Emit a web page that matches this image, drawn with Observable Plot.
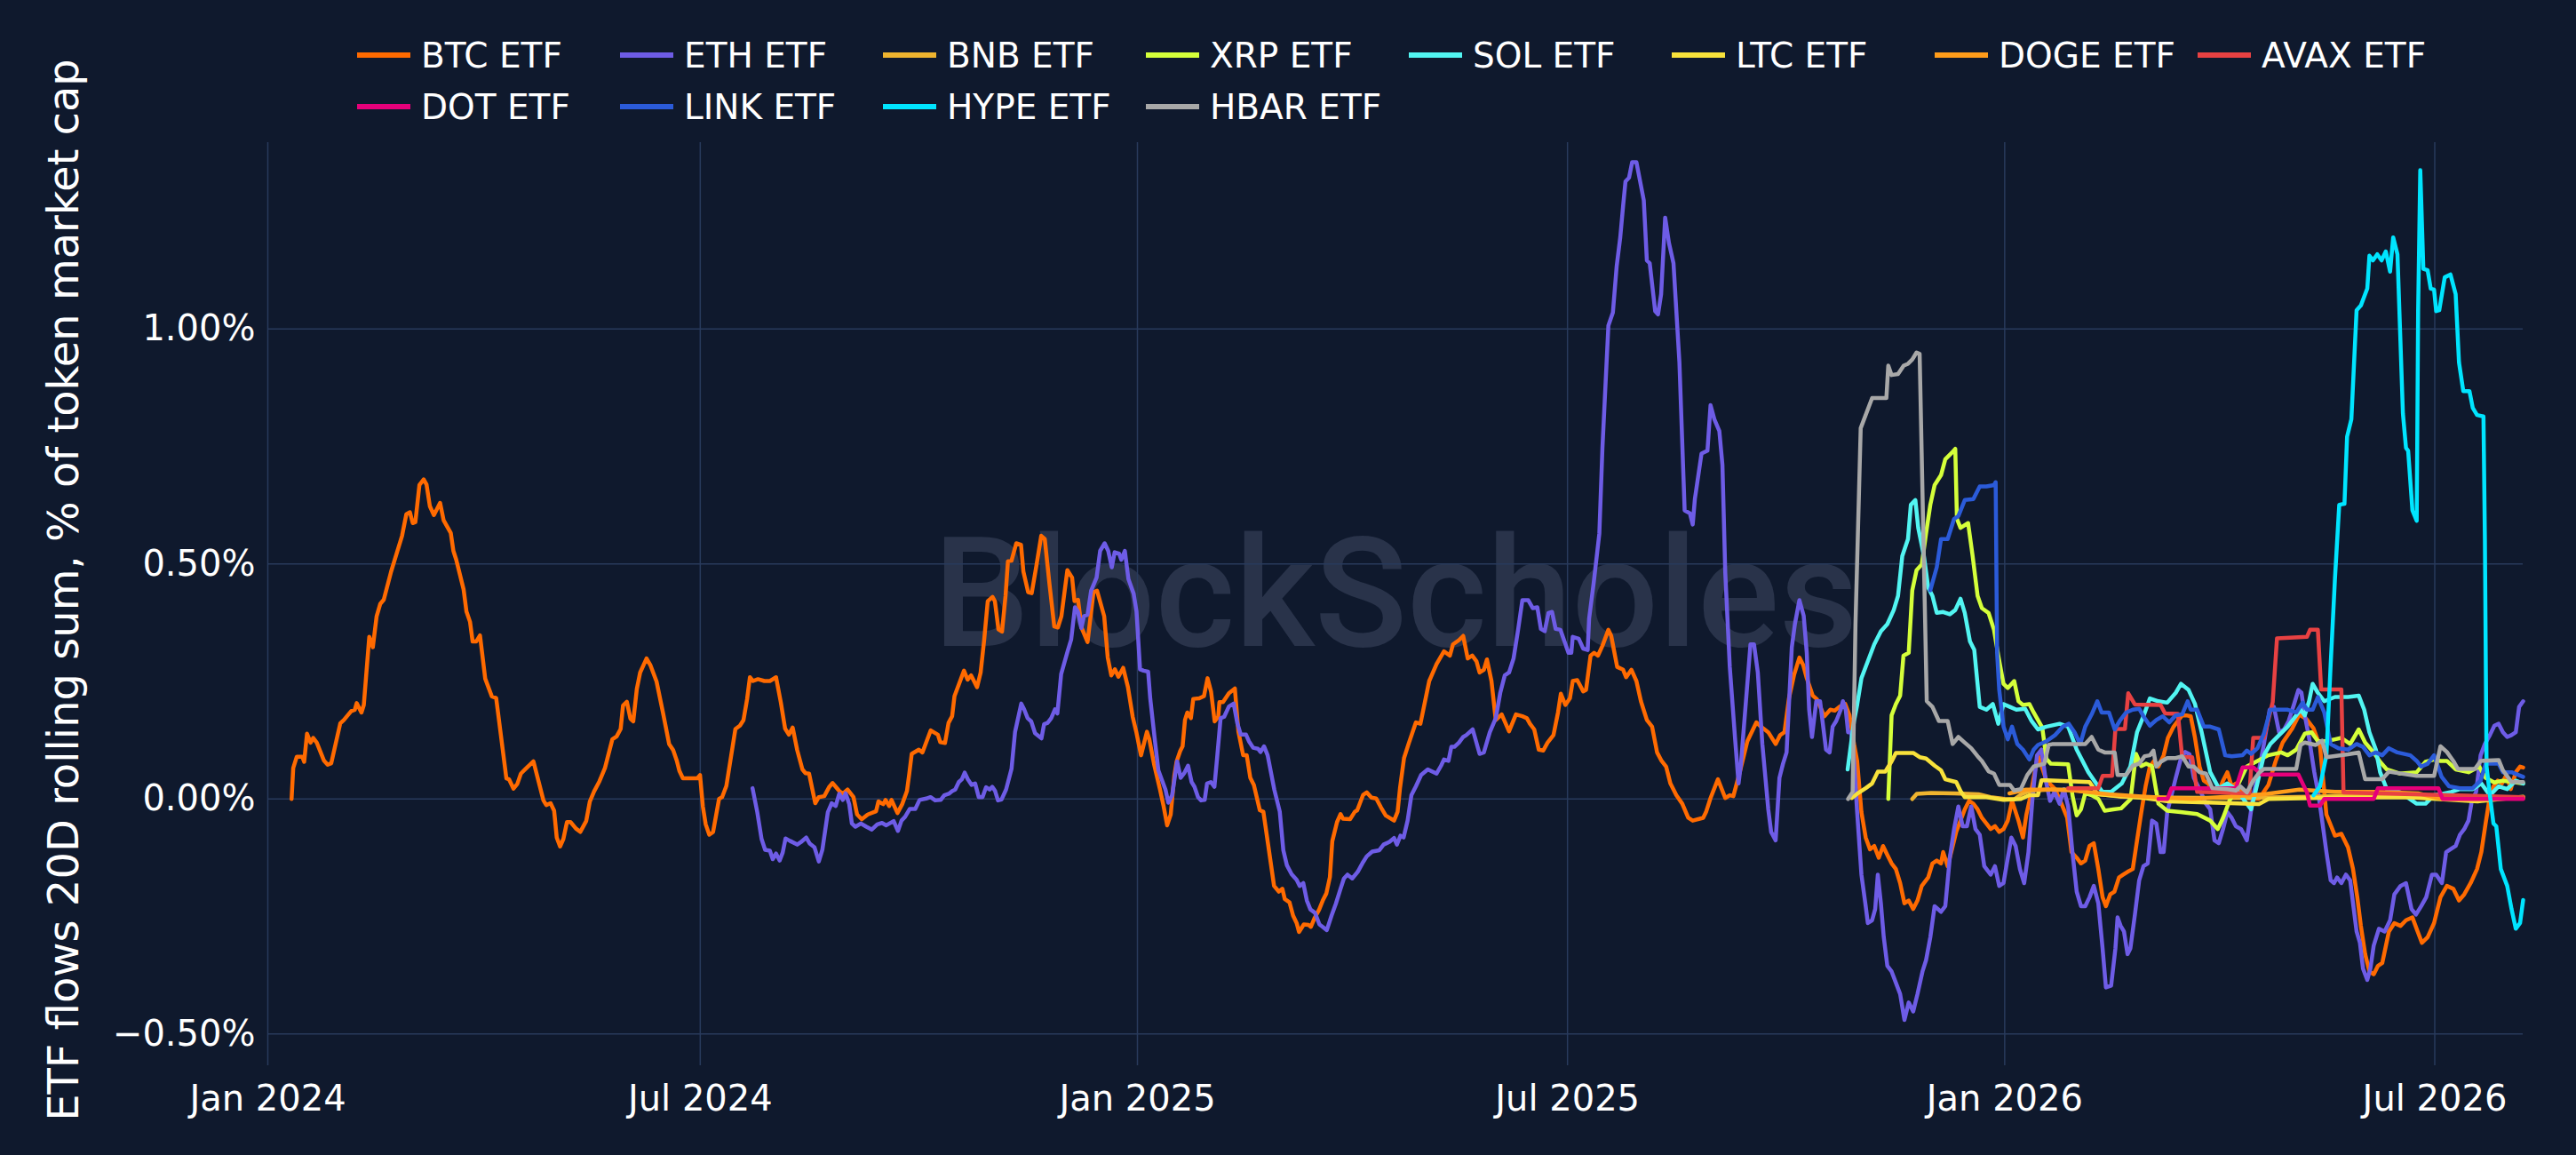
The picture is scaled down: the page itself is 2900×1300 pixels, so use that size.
<!DOCTYPE html>
<html>
<head>
<meta charset="utf-8">
<script src="https://cdn.jsdelivr.net/npm/d3@7"></script>
<script src="https://cdn.jsdelivr.net/npm/@observablehq/plot@0.6"></script>
<style>
html,body{margin:0;padding:0;background:#0f192d;}
#wrap{position:relative;width:2900px;height:1300px;background:#0f192d;font-family:"DejaVu Sans",Verdana,sans-serif;overflow:hidden;}
#legend{position:absolute;left:402px;top:33px;width:2400px;display:flex;flex-wrap:wrap;}
.item{width:296px;height:58px;display:flex;align-items:center;color:#fff;font-size:39px;white-space:nowrap;}
.sw{width:60px;height:6px;margin-right:12px;flex:none;}
</style>
</head>
<body>
<div id="wrap"><div id="chart"></div><div id="legend"></div></div>
<script>
// x values: days since 2024-01-01 ; y values: % of token market cap
const startDate = "2024-01-01";
const xTickDates = ["2024-01-01","2024-07-01","2025-01-01","2025-07-01","2026-01-01","2026-07-01"];
const xEndDay = 949.2;
const yTicks = [-0.5, 0, 0.5, 1.0];
const yDomain = [-0.5675, 1.3966];
const yTitle = "ETF flows 20D rolling sum, % of token market cap";
const watermark = "BlockScholes";

const seriesNames = ["BTC ETF","ETH ETF","BNB ETF","XRP ETF","SOL ETF","LTC ETF","DOGE ETF","AVAX ETF","DOT ETF","LINK ETF","HYPE ETF","HBAR ETF"];
const seriesColors = ["#ff6a00","#6e5ce6","#efb42f","#d5ff3a","#52f5f2","#f8e23b","#ff9c1a","#e84142","#e6007a","#2b5bd9","#00e5ff","#a8a8a8"];

const btc = [[10,0],[10.7,0.066],[12.2,0.09],[14.5,0.09],[15.3,0.079],[16.5,0.139],[18,0.12],[19.1,0.13],[20.6,0.12],[23.6,0.082],[25.2,0.073],[26.7,0.076],[30.5,0.161],[32,0.168],[35.1,0.187],[36.6,0.19],[37.4,0.204],[39.4,0.184],[40.4,0.2],[42.7,0.345],[44.2,0.323],[45.8,0.389],[47.3,0.415],[48.8,0.424],[51.9,0.484],[54.2,0.522],[56.5,0.56],[58.3,0.606],[59.8,0.61],[61,0.587],[62.1,0.589],[63.8,0.668],[65.6,0.68],[66.8,0.669],[68.2,0.623],[69.9,0.604],[72.5,0.63],[74,0.593],[77,0.566],[78.1,0.528],[79.3,0.509],[82.4,0.446],[83.6,0.399],[85.1,0.377],[86.2,0.335],[87.7,0.335],[89.3,0.348],[91.5,0.256],[94.3,0.218],[96.1,0.215],[100.4,0.044],[101.5,0.042],[103.4,0.022],[105,0.032],[106.5,0.054],[108.3,0.063],[111.8,0.08],[116,-0.003],[117.2,-0.013],[119,-0.009],[120.5,-0.025],[121.6,-0.082],[123,-0.101],[124.4,-0.085],[125.9,-0.049],[127.4,-0.049],[129.7,-0.063],[131.5,-0.07],[134,-0.047],[135.5,-0.006],[137.3,0.016],[139.6,0.038],[141.9,0.066],[145,0.127],[146.8,0.133],[148.5,0.149],[149.5,0.199],[151.1,0.207],[152.6,0.171],[153.8,0.165],[155.3,0.234],[156.7,0.269],[159.4,0.299],[161,0.285],[163.6,0.25],[166.3,0.184],[168.9,0.117],[170.6,0.104],[172.1,0.082],[173.2,0.06],[174.7,0.044],[180.8,0.044],[181.9,0.051],[183.1,-0.016],[184.3,-0.054],[185.8,-0.076],[187.4,-0.07],[189.9,0],[191.2,0.004],[193,0.028],[196.8,0.149],[198.7,0.156],[200.2,0.168],[201.7,0.212],[202.9,0.259],[204.2,0.251],[206.3,0.255],[209,0.251],[211.3,0.251],[213.9,0.259],[215.9,0.206],[217.7,0.15],[219.3,0.137],[220.9,0.152],[222.8,0.104],[225,0.063],[226.3,0.055],[227.8,0.054],[230.4,-0.009],[231.9,0.004],[234.2,0.006],[236.2,0.025],[237.7,0.034],
[239,0.026],[240.5,0.017],[242,0.011],[244,0.020],[246.5,0.004],[248,-0.033],[250,-0.043],[252.5,-0.033],[256,-0.026],[257,-0.005],[259,-0.011],[260,-0.002],[261.5,-0.015],[262.5,-0.002],[265,-0.030],[267,-0.011],[269,0.017],[270,0.055],[271,0.096],[274,0.105],[275.5,0.099],[279,0.146],[282,0.137],[283,0.121],[285,0.119],[286.5,0.162],[288,0.176],[289,0.219],[293,0.273],[294.5,0.254],[296,0.263],[298.5,0.238],[300,0.269],[301.5,0.339],[303,0.421],[305,0.430],[306,0.421],[307.5,0.361],[309,0.356],[310.5,0.433],[311.5,0.506],[313,0.507],[315,0.544],[317,0.541],[318,0.484],[320,0.440],[321.5,0.438],[323.5,0.497],[325.5,0.560],[327,0.553],[329,0.456],[331,0.367],[332.5,0.365],[334,0.389],[336.5,0.487],[338.5,0.471],[339.5,0.421],[341,0.424],[342.5,0.364],[345,0.334],[347.5,0.440],[349,0.443],[352,0.389],[353.5,0.301],[355,0.263],[356.5,0.276],[358,0.260],[360,0.279],[362,0.238],[364,0.175],[365.5,0.143],[367.5,0.093],[370,0.143],[371,0.127],[373,0.074],[375.5,0.020],[377,-0.015],[378.5,-0.056],[380,-0.033],[381.5,0.049],[382.5,0.080],[384,0.102],[385,0.112],[386,0.168],[387,0.184],[388.5,0.172],[389.5,0.213],[392,0.214],[394,0.219],[395.5,0.257],[397,0.228],[398.5,0.165],[400,0.175],[400.5,0.206],[402,0.206],[404.5,0.225],[407,0.235],[408.5,0.143],[410.5,0.093],[412,0.093],[413.5,0.045],[415,0.030],[417.5,-0.024],[419,-0.027],[421,-0.097],[423.5,-0.185],[425.5,-0.197],[427,-0.191],[428,-0.213],[430,-0.220],[431.5,-0.248],[433,-0.264],[434,-0.283],[436,-0.267],[438,-0.268],[439,-0.272],[440.5,-0.254],[442.5,-0.235],[444,-0.216],[445.5,-0.201],[447,-0.166],[448,-0.090],[450,-0.049],[451.5,-0.032],[452.5,-0.042],[455.5,-0.043],[457.5,-0.027],[458.5,-0.024],[461,0.009],[462.5,0.014],[464.5,0.003],[466.5,0.001],[468.5,-0.018],[470.5,-0.035],[474,-0.046],[475.5,-0.027],[476.5,0.023],
[478.2,0.087],[480.1,0.117],[483.2,0.163],[485.1,0.160],[488.8,0.251],[491.9,0.287],[495,0.314],[497.5,0.305],[498.8,0.329],[501.3,0.338],[503.1,0.347],[505,0.299],[506.9,0.305],[508.7,0.293],[510,0.269],[511.8,0.275],[513.1,0.297],[515,0.251],[516.8,0.168],[519.3,0.180],[522.4,0.144],[525.3,0.180],[528,0.176],[529.9,0.172],[531.2,0.160],[533,0.148],[534.9,0.105],[536.8,0.103],[538.6,0.120],[541.1,0.136],[543,0.184],[544.2,0.224],[546.1,0.200],[548,0.214],[549.2,0.251],[551.1,0.253],[553.6,0.229],[554.8,0.232],[556.7,0.305],[558.2,0.311],[559.8,0.305],[561.7,0.326],[564.2,0.360],[565.4,0.347],[567.9,0.281],[570.4,0.275],[571.7,0.259],[573.9,0.275],[576,0.251],[577.9,0.208],[580.4,0.168],[582.6,0.154],[584.7,0.099],[586.6,0.081],[588.5,0.069],[590.3,0.033],[592.8,0.008],[595.3,-0.010],[597.8,-0.040],[599.7,-0.046],[604.1,-0.040],[605.3,-0.028],[607.2,0.002],[610.3,0.042],[613.4,0.002],[615.3,0.008],[616.8,0.006],[619.6,0.059],[622.7,0.123],[626.5,0.163],[628.4,0.154],[631.5,0.142],[634.6,0.117],[636.5,0.136],[638.3,0.142],[640.2,0.214],[642.4,0.265],[644.6,0.301],[646.2,0.285],[647.7,0.257],[650.2,0.220],[652,0.212],[655.1,0.176],[657.6,0.190],[659.5,0.188],[661.4,0.196],[663.9,0.202],[665.7,0.178],[667.6,0.117],
[668.9,0.081],[670.7,-0.028],[672.5,-0.082],[674.3,-0.107],[676.1,-0.100],[678,-0.125],[679.8,-0.100],[681.6,-0.119],[683.4,-0.137],[685.2,-0.149],[687,-0.179],[688.8,-0.222],[690.6,-0.216],[692.5,-0.234],[694.3,-0.216],[696.1,-0.185],[698.8,-0.167],[700.6,-0.137],[702.4,-0.131],[704.2,-0.137],[705.1,-0.113],[707,-0.143],[708.8,-0.107],[710.6,-0.070],[712.4,-0.046],[714.2,-0.022],[716,-0.004],[717.8,-0.010],[719.6,-0.022],[721.4,-0.040],[723.3,-0.052],[725.1,-0.064],[726.9,-0.058],[728.7,-0.070],[730.5,-0.064],[732.3,-0.046],[734.1,-0.004],[736.8,-0.046],[738.7,-0.082],[740.1,-0.034],[741.4,-0.004],[743.2,0.045],[745,0.093],[748.6,0.039],[752.2,0.021],[754.9,-0.010],[757.3,-0.040],[759.1,-0.113],[761.3,-0.125],[763.1,-0.137],[764.9,-0.131],[766.7,-0.100],[768.5,-0.094],[770.4,-0.149],[772.2,-0.209],[773.6,-0.228],[775.4,-0.203],[777.2,-0.197],[779.1,-0.167],[780.9,-0.161],[782.7,-0.155],[784.9,-0.149],[786.7,-0.088],[788.5,-0.028],[790.3,0.027],[792.1,0.069],[793.9,0.081],[795.7,0.069],[797.9,0.093],[799.7,0.130],[802.1,0.154],[803.9,0.166],[805.7,0.178],[807.5,0.178],[809.3,0.176],[811.1,0.130],[813,0.069],[814.8,0.039],[816.6,0.033],[818.4,0.021],[821.1,0.015],[822.9,0.039],[824.7,0.057],[826.5,0.027],[828.3,0.033],[830.2,0.021],[832.9,0.002],[838,0.0],[842,0.03],[845,0.08],[848,0.12],[852,0.15],[855,0.18],[858,0.17],[861,0.15],[863.7,0.112],[866.4,-0.033],[870,-0.078],[872.7,-0.074],[875.5,-0.103],[877.6,-0.149],[879.4,-0.209],[880.9,-0.270],[882.7,-0.330],[884.5,-0.367],[886.3,-0.373],[888.1,-0.355],[889.9,-0.349],[892.7,-0.282],[895,-0.264],[897.6,-0.270],[899.9,-0.258],[902.6,-0.252],[904.8,-0.282],[906.6,-0.306],[909,-0.294],[911.7,-0.264],[914.4,-0.209],[917.1,-0.185],[919.8,-0.191],[922.2,-0.216],[924.4,-0.203],[927.1,-0.179],[929.8,-0.149],[931.6,-0.113],[933.4,-0.052],[934.9,-0.004],[936.7,0.027],[938.5,0.039],[940.3,0.033],[942.1,0.051],[944,0.021],[946.1,0.057],[947.9,0.069],[949.2,0.067]];

const eth = [[204,0.023],[206,-0.028],[207.8,-0.085],[209.3,-0.108],[211.3,-0.11],[212.5,-0.128],[213.9,-0.116],[215.4,-0.131],[216.7,-0.114],[217.9,-0.084],[219.7,-0.089],[222.8,-0.097],[224.3,-0.092],[226.6,-0.082],[228.1,-0.095],[230.1,-0.103],[231.9,-0.133],[233.4,-0.108],[235.7,-0.028],[237.3,-0.009],
[239,-0.015],[240.5,0.011],[242,-0.002],[243.2,0.012],[244.7,-0.011],[245.8,-0.052],[247.3,-0.059],[249.6,-0.052],[251.9,-0.059],[254.2,-0.065],[256.5,-0.054],[258.5,-0.051],[260.3,-0.056],[263.4,-0.047],[265.2,-0.068],[266.7,-0.046],[268.2,-0.038],[270.2,-0.021],[272.5,-0.021],[274.3,-0.002],[277.1,0.001],[278.9,0.004],[280.9,-0.003],[283.2,-0.002],[284.7,0.008],[286.6,0.011],[288.1,0.017],[289.3,0.020],[290.8,0.036],[292.1,0.042],[293.3,0.056],[294.6,0.042],[296.2,0.030],[297.7,0.033],[299.2,0.004],[300.8,0.004],[302.3,0.025],[303.8,0.020],[304.9,0.026],[306.1,0.017],[307.3,-0.003],[308.8,-0.001],[310.7,0.020],[313,0.064],[314.5,0.143],[317.1,0.203],[318.3,0.191],[319.8,0.172],[321.3,0.165],[322.9,0.140],[325.6,0.129],[326.7,0.159],[328.2,0.162],[329.7,0.172],[331.3,0.191],[332.3,0.182],[333.9,0.266],[336.6,0.314],[338.1,0.339],[339.7,0.408],[340.9,0.399],[342.4,0.364],[343.5,0.389],[345,0.392],[346.5,0.443],[348.8,0.471],[350.3,0.528],[352.2,0.544],[353.7,0.528],[355.2,0.493],[356.4,0.525],[358.3,0.522],[359.2,0.509],[360.7,0.528],[362.2,0.468],[364.4,0.437],[365.6,0.399],[367.1,0.276],[368.6,0.273],[370.5,0.271],[371.4,0.213],[373.2,0.131],[374.8,0.061],[377.8,0.020],[379,-0.008],[380.6,0.008],[382.7,0.080],[384.2,0.045],[385.7,0.055],[387.3,0.071],[388.8,0.036],[390,0.026],[391.5,0.004],[392.8,-0.003],[394.3,-0.002],[395.3,0.033],[396.9,0.036],[398.4,0.026],[399.5,0.086],[401,0.172],[402.5,0.175],[404.5,0.197],[406.5,0.203],[408,0.162],[409.5,0.137],[411.7,0.137],[412.9,0.123],[414.7,0.109],[416.7,0.107],[417.8,0.100],[419.3,0.112],[420.8,0.093],[423.6,0.020],[425.9,-0.027],[427.4,-0.109],[428.9,-0.141],[430.9,-0.160],[433,-0.172],[434.3,-0.185],[435.8,-0.179],[437.3,-0.216],[438.8,-0.235],[440.7,-0.242],[442.6,-0.267],[444.2,-0.273],[445.7,-0.279],[447.7,-0.248],[449.5,-0.223],[451.3,-0.194],[452.9,-0.169],[454.4,-0.161],[456.4,-0.169],[458.7,-0.155],[461,-0.134],[462.5,-0.122],[464.8,-0.112],[467.8,-0.109],[469.6,-0.097],[472.1,-0.091],[474,-0.083],[475.2,-0.097],[476.7,-0.078],
[478,-0.082],[479.7,-0.046],[481.3,0.008],[483.2,0.027],[485.4,0.051],[488.2,0.063],[491.9,0.054],[493.8,0.071],[495,0.084],[496.9,0.081],[498.1,0.111],[499.4,0.111],[501.3,0.120],[503.1,0.132],[504.4,0.136],[507.1,0.148],[510,0.096],[511.8,0.099],[514.3,0.142],[516.8,0.172],[518.7,0.226],[520.6,0.263],[522.4,0.269],[524.3,0.299],[526.2,0.360],[528,0.423],[530.5,0.423],[532.4,0.406],[534.3,0.408],[535.8,0.362],[537.4,0.357],[539,0.396],[540.5,0.398],[542,0.362],[544,0.360],[547.4,0.311],[548.6,0.311],[549.2,0.345],[551.7,0.341],[553.6,0.320],[555.5,0.317],[556.1,0.384],[558,0.459],[560.4,0.565],[561.7,0.747],[564.2,1.007],[566.1,1.035],[567.7,1.134],[569.2,1.195],[570.4,1.262],[571.4,1.314],[572.9,1.322],[574.2,1.355],[576,1.355],[579.1,1.274],[580.4,1.146],[581.6,1.140],[583.9,1.038],[585.1,1.031],[586.4,1.074],[588.1,1.237],[589.7,1.183],[591.6,1.140],[594.1,0.929],[596.3,0.614],[598.5,0.608],[599.7,0.584],[600.6,0.638],[603.4,0.735],[605.9,0.741],[607.2,0.838],[608.8,0.808],[610.9,0.783],[612.2,0.711],[613.4,0.481],[615.3,0.281],[617.5,0.130],[619,0.033],[620,0.075],[622.1,0.208],[624,0.329],[625.5,0.329],[627.1,0.269],[629,0.117],[631.5,-0.022],[632.7,-0.070],[634.6,-0.088],[636.2,0.045],[637.7,0.075],[639.2,0.099],[641.4,0.323],[642.7,0.372],[644.6,0.423],[646.4,0.390],[647.7,0.311],[648.7,0.190],[649.9,0.132],[651.7,0.208],[653.3,0.208],[655.8,0.105],[657.3,0.099],[658.6,0.154],[660.1,0.166],[662,0.190],[662.9,0.208],[664.1,0.190],[665.1,0.142],[666.4,0.142],[667.6,0.081],[668.9,-0.028],
[670.7,-0.161],[672.5,-0.228],[673.4,-0.264],[675.2,-0.258],[676.5,-0.234],[677.6,-0.161],[678.9,-0.222],[680.1,-0.294],[681.6,-0.355],[683.4,-0.367],[685.2,-0.391],[687,-0.415],[688.8,-0.470],[690.6,-0.433],[692.5,-0.452],[694.3,-0.415],[696.4,-0.367],[697.9,-0.343],[699.7,-0.294],[701.5,-0.228],[704.2,-0.240],[706,-0.228],[707.9,-0.125],[709.7,-0.064],[711.5,-0.016],[713.3,-0.058],[715.1,-0.058],[716.9,-0.016],[718.7,-0.064],[720.5,-0.076],[722.4,-0.143],[725.1,-0.161],[726.9,-0.143],[728.7,-0.185],[730.5,-0.179],[731.9,-0.137],[733.8,-0.082],[735.6,-0.100],[737.4,-0.149],[739.2,-0.179],[741,-0.113],[742.8,0.008],[744.6,0.093],[746.5,0.105],[748.3,0.039],[750.1,-0.004],[751.9,0.015],[754.1,-0.010],[755.9,0.021],[757.7,-0.016],[759.5,-0.113],[761.3,-0.197],[763.1,-0.228],[764.9,-0.228],[766.7,-0.209],[768.5,-0.185],[770.4,-0.222],[772.2,-0.318],[773.6,-0.401],[775.8,-0.397],[777.6,-0.318],[778.5,-0.252],[779.8,-0.270],[781.2,-0.282],[782.7,-0.330],[783.9,-0.318],[785.8,-0.246],[787.6,-0.173],[789.4,-0.143],[791.2,-0.137],[793,-0.046],[794.8,-0.052],[796.6,-0.113],[797.9,-0.113],[799.4,-0.028],[801.2,0.008],[803,0.045],[805.2,0.087],[807,0.100],[808.8,0.095],[810.6,0.045],[813,0.021],[815.7,-0.010],[817.5,-0.022],[819.3,-0.088],[821.1,-0.094],[822.9,-0.064],[824.7,-0.028],[826.5,-0.040],[828.3,-0.058],[830.5,-0.064],[832.9,-0.088],[834.1,-0.046],[835.6,0.008],[837.4,0.045],[840.1,0.117],[842.5,0.190],[844.3,0.196],[846.5,0.142],[848.6,0.148],[850.5,0.166],[852.8,0.202],[854.6,0.232],[855.9,0.226],[857.3,0.178],[859.1,0.130],[861.3,0.057],[863.1,0.008],[864.6,-0.046],[866.4,-0.113],[868.2,-0.173],[869.6,-0.179],[870.9,-0.167],[872.7,-0.179],[874.6,-0.161],[876.4,-0.173],[877.6,-0.222],[879.1,-0.282],[880.5,-0.306],[881.8,-0.361],[883.6,-0.385],[884.9,-0.361],[886.3,-0.312],[888.5,-0.276],[890.9,-0.282],[893.2,-0.258],[895,-0.203],[897.6,-0.185],[899.9,-0.179],[902.2,-0.234],[904.1,-0.246],[906.3,-0.228],[908.4,-0.209],[910.8,-0.161],[912.6,-0.161],[915,-0.179],[916.8,-0.113],[918.6,-0.107],[920.8,-0.100],[922.6,-0.076],[924.4,-0.064],[926.2,-0.046],[927.6,-0.004],[929.4,0.015],[931.3,0.093],[933.1,0.117],[935.2,0.136],[937.1,0.156],[938.9,0.160],[940.7,0.142],[942.5,0.132],[944.3,0.136],[946.1,0.142],[947.5,0.196],[949.2,0.208]];

const bnb = [[692.1,0],[694,0.011],[700,0.013],[710,0.012],[720,0.010],[725,0.004],[731,0.0],[735,-0.001],[738,0.01],[742,0.018],[750,0.02],[760,0.02],[768,0.012],[780,0.005],[800,0.003],[830,0.002],[860,0.005],[880,0.008],[900,0.005],[920,0.002],[949.2,0.003]];

const xrp = [[682,0],[683.4,0.178],[685.2,0.202],[687,0.220],[688.4,0.305],[690.6,0.311],[692.1,0.444],[693.9,0.487],[696.1,0.499],[697.9,0.565],[699.7,0.626],[701.5,0.668],[704.2,0.689],[706,0.723],[708.8,0.737],[710.2,0.745],[710.9,0.596],[712.4,0.577],[715.6,0.587],[717.5,0.517],[719.6,0.432],[721.4,0.406],[724.2,0.396],[726.5,0.360],[728.3,0.305],[730.5,0.245],[732.3,0.236],[735,0.251],[736.8,0.208],[738.7,0.200],[741.4,0.202],[743.2,0.184],[746.8,0.152],[748.6,0.085],[750.4,0.075],[757.7,0.074],[759.5,0.008],[761.3,-0.035],[763.1,-0.022],[764.9,0.012],[767.6,0.008],[770.4,0.0],[773.1,-0.025],[776.7,-0.022],[780,-0.02],[784,0.0],[786.3,0.096],[788.5,0.07],[790.5,0.075],[793,0.07],[795.7,-0.01],[799.4,-0.025],[805,-0.028],[812,-0.032],[817.5,-0.046],[820.7,-0.064],[822.9,-0.040],[825.6,-0.004],[828.3,0.021],[832.9,0.069],[837.4,0.081],[841.9,0.093],[847.4,0.099],[850.1,0.093],[853.7,0.105],[857.3,0.139],[860.1,0.142],[862.8,0.123],[866.4,0.123],[870,0.127],[872.7,0.130],[876.4,0.117],[880,0.148],[882.7,0.120],[886.3,0.099],[889,0.079],[891.8,0.063],[897.2,0.054],[904.4,0.057],[908.1,0.079],[911.7,0.084],[914.4,0.081],[917.1,0.081],[920.8,0.063],[926.2,0.057],[930.7,0.069],[933.4,0.045],[937.1,0.035],[940.7,0.039],[949.2,0.033]];

const sol = [[664.9,0.063],[667.6,0.166],[668.9,0.2],[670.7,0.257],[673.4,0.293],[676.1,0.329],[678.9,0.357],[681.6,0.372],[684.3,0.402],[686.1,0.432],[687.9,0.517],[690.3,0.553],[691.5,0.626],[693.4,0.636],[694.6,0.577],[697,0.517],[698.8,0.450],[700.6,0.432],[702.4,0.396],[705.1,0.398],[707.9,0.393],[710.2,0.402],[712.4,0.426],[714.2,0.396],[716.4,0.335],[718.2,0.317],[720.5,0.196],[723.3,0.190],[726,0.202],[728.3,0.160],[730.5,0.202],[733.2,0.196],[735.9,0.190],[739.6,0.192],[742.3,0.166],[745,0.148],[748.6,0.154],[754.1,0.160],[757.7,0.154],[761.3,0.105],[766.2,0.057],[769.5,0.033],[772.2,0.015],[775.8,0.015],[780.3,0.033],[783.9,0.069],[786.7,0.142],[789.4,0.176],[792.1,0.214],[795.7,0.208],[799.4,0.205],[803,0.226],[805.2,0.245],[808.4,0.232],[811.1,0.202],[813.9,0.142],[817.5,0.057],[821.1,0.023],[824.7,0.033],[828.3,0.021],[832,-0.004],[834.7,-0.022],[836.5,0.015],[840.1,0.093],[842.8,0.117],[846.5,0.136],[850.1,0.154],[852.8,0.172],[855.5,0.190],[857.3,0.178],[859.1,0.208],[860.6,0.245],[862.8,0.226],[865.5,0.208],[870,0.217],[875.5,0.217],[880,0.220],[882.3,0.190],[884.5,0.142],[887.2,0.105],[889,0.057],[891.8,0.021],[897.2,0.015],[904.4,-0.010],[908.1,-0.010],[911.7,0.008],[915.3,0.011],[918.9,0.015],[922.6,0.021],[928,0.021],[931.6,0.033],[935.2,0.008],[938.9,0.027],[942.5,0.021],[946.1,0.039],[949.2,0.033]];

const ltc = [[666.6,0.002],[668.9,0.011],[672.5,0.023],[675.2,0.033],[677.6,0.058],[680.7,0.058],[683.4,0.080],[685.2,0.098],[692.5,0.098],[695.2,0.089],[697.9,0.086],[701.5,0.071],[704.2,0.061],[706,0.042],[710.6,0.036],[712.4,0.017],[714.2,0.004],[723.3,0.004],[730.5,-0.002],[737.8,0.0],[741.4,0.008],[745,0.008],[746.5,0.040],[748.6,0.040],[766.7,0.036],[768.2,0.025],[770,0.01],[790,0.002],[800,-0.005],[820,-0.008],[838,-0.011],[842,0.0],[870,0.003],[900,0.004],[930,-0.005],[949.2,0.005]];

const doge = [[733,0.012],[740,0.02],[750,0.02],[760,0.018],[775,0.01],[790,0.005],[810,0.0],[840,0.01],[855,0.02],[870,0.015],[888,0.015],[905,0.012],[915,0.0],[930,0.0],[949.2,0.002]];

const avax = [[757.7,0.023],[770.4,0.023],[772.2,0.049],[776.2,0.049],[777.6,0.149],[781.6,0.149],[783,0.225],[785.8,0.201],[796.6,0.200],[798.5,0.182],[803.9,0.181],[805.7,0.089],[809.9,0.089],[812,0.015],[834,0.012],[835.6,0.130],[840.1,0.130],[843.8,0.206],[845.6,0.342],[858.2,0.345],[859.5,0.360],[862.8,0.360],[864.2,0.233],[872.7,0.233],[873.6,0.014],[949.2,0.004]];

const dot = [[795.7,0.0],[799.5,0.0],[801.2,0.023],[828.3,0.023],[831.1,0.067],[835.6,0.067],[839.2,0.052],[854.6,0.052],[858.2,0.014],[859.5,-0.014],[863.7,-0.014],[865.5,0.0],[886.3,0.0],[888.1,0.023],[913.5,0.023],[915.3,0.0],[949.2,0.0]];

const link = [[699.7,0.444],[702.4,0.493],[704.2,0.553],[707,0.553],[709.7,0.596],[711.5,0.602],[714.2,0.636],[717.8,0.638],[720.5,0.665],[723.3,0.665],[726.5,0.668],[727.2,0.674],[727.8,0.311],[728.7,0.232],[730.5,0.154],[732.3,0.127],[734.1,0.154],[736.3,0.117],[738.7,0.105],[741.4,0.084],[743.2,0.105],[745,0.115],[748.6,0.123],[752.2,0.136],[755.5,0.154],[758,0.160],[760.4,0.142],[762.8,0.117],[764.9,0.154],[767.6,0.180],[770,0.208],[771.8,0.184],[774.9,0.184],[777.3,0.148],[779.4,0.166],[782.1,0.184],[784.9,0.190],[787.6,0.192],[789.4,0.176],[792.1,0.156],[794.8,0.168],[797.5,0.176],[800.3,0.163],[803,0.178],[805.7,0.180],[808,0.208],[809.3,0.190],[812,0.190],[814.8,0.154],[817.5,0.154],[821.1,0.148],[823.8,0.093],[826.5,0.091],[831.1,0.093],[832.9,0.103],[834.7,0.096],[837.4,0.108],[840.1,0.139],[842.8,0.190],[845.6,0.190],[850.1,0.190],[853.7,0.184],[856.4,0.205],[858.2,0.190],[860.6,0.190],[862.8,0.217],[865.5,0.184],[868.2,0.117],[871.5,0.108],[875.5,0.105],[879.1,0.117],[881.8,0.111],[884.5,0.093],[887.2,0.099],[889.9,0.093],[892.7,0.108],[896.3,0.099],[901.7,0.093],[904.4,0.081],[906.3,0.069],[909,0.075],[911.7,0.093],[914.9,0.047],[918,0.027],[922.6,0.023],[928,0.023],[931.3,0.039],[933.4,0.075],[938.9,0.075],[940.7,0.057],[944.3,0.057],[949.2,0.047]];

const hype = [[861,0.008],[863.7,0.027],[866.4,0.093],[868.2,0.287],[870,0.469],[871.8,0.626],[874,0.628],[875.1,0.771],[876.9,0.808],[879.1,1.040],[880.9,1.050],[883.6,1.086],[884.5,1.156],[886,1.146],[887.8,1.159],[889.6,1.146],[891.4,1.165],[893.2,1.122],[894.5,1.195],[896.3,1.159],[898.6,0.820],[899.9,0.747],[900.8,0.741],[902.6,0.614],[904.4,0.592],[905,1.038],[905.9,1.338],[907.2,1.128],[909,1.125],[910.3,1.086],[911.7,1.084],[912.6,1.038],[913.9,1.040],[916.2,1.110],[918.6,1.116],[920.8,1.074],[922.2,0.929],[924,0.868],[926.6,0.868],[928,0.832],[929.8,0.817],[932.5,0.814],[933.1,0.553],[933.8,0.069],[935.2,0.008],[936.7,-0.052],[937.9,-0.058],[939.8,-0.149],[942.5,-0.185],[944.3,-0.234],[946.1,-0.276],[947.9,-0.264],[949.2,-0.215]];

const hbar = [[665.1,0],[667,0.015],[668.2,0.372],[668.9,0.505],[670.4,0.789],[675.2,0.853],[681.2,0.853],[682,0.922],[683.4,0.902],[686.1,0.904],[688.5,0.922],[690.3,0.926],[692.1,0.935],[693.9,0.950],[695.2,0.947],[698.2,0.208],[700.6,0.196],[703.3,0.166],[707,0.166],[709.1,0.117],[711.5,0.132],[714.2,0.120],[716.9,0.108],[719.6,0.091],[721.4,0.081],[724.2,0.059],[726.5,0.054],[728.7,0.030],[733.2,0.030],[735,0.018],[737.8,0.021],[740.5,0.051],[743.2,0.069],[747.7,0.075],[749.5,0.115],[751.3,0.117],[764.9,0.117],[767.6,0.132],[770.4,0.105],[773.1,0.099],[777.3,0.099],[778.5,0.051],[782.1,0.051],[784.9,0.071],[787.6,0.075],[789.9,0.091],[792.1,0.093],[793.6,0.103],[794.8,0.069],[796.6,0.079],[799.4,0.087],[803,0.087],[805.7,0.091],[808.4,0.069],[810.6,0.069],[813,0.057],[815.7,0.054],[818.4,0.023],[824.7,0.021],[828.3,0.018],[830.2,0.027],[832.9,0.014],[835.6,0.039],[838.3,0.057],[840.1,0.064],[853.7,0.064],[855.5,0.115],[857.3,0.120],[861.9,0.115],[864.6,0.124],[866.4,0.089],[875.5,0.095],[880,0.099],[882.7,0.042],[889.9,0.042],[892.7,0.058],[904.4,0.049],[911.7,0.049],[914.4,0.112],[917.1,0.100],[919.8,0.081],[921.7,0.064],[928.9,0.064],[931.3,0.081],[938.9,0.083],[940.7,0.061],[944.3,0.036],[949.2,0.036]];

const seriesData = [btc, eth, bnb, xrp, sol, ltc, doge, avax, dot, link, hype, hbar];

const base = new Date(startDate).getTime();
const toDate = d => new Date(base + d * 864e5);
const xTicks = xTickDates.map(s => new Date(s));
const rows = seriesData.flatMap((arr, i) => arr.map(([d, v]) => ({series: seriesNames[i], date: toDate(d), value: v})));

const gridColor = "#283a5c";
const fmtY = d => (d < 0 ? "\u2212" : "") + Math.abs(d).toFixed(2) + "%";

const chart = Plot.plot({
  width: 2900,
  height: 1300,
  marginLeft: 301,
  marginRight: 60,
  marginTop: 160,
  marginBottom: 101,
  style: {background: "#0f192d", color: "#ffffff", fontFamily: "DejaVu Sans, Verdana, sans-serif", fontSize: "40px", overflow: "visible"},
  x: {type: "utc", domain: [toDate(0), toDate(xEndDay)], ticks: xTicks, tickFormat: d3.utcFormat("%b %Y"), tickSize: 0, tickPadding: 22, label: null},
  y: {domain: yDomain, ticks: yTicks, tickFormat: fmtY, tickSize: 0, tickPadding: 14, label: null},
  marks: [
    Plot.text([watermark], {frameAnchor: "middle", text: d => d, fontSize: 172, fontWeight: 500, fontFamily: "Roboto, Inter, sans-serif", fill: "#29334a", dy: -8}),
    Plot.ruleX(xTicks, {x: d => d, stroke: gridColor, strokeWidth: 1.5}),
    Plot.ruleY(yTicks, {y: d => d, stroke: gridColor, strokeWidth: 1.5}),
    ...seriesNames.map((name, i) => Plot.line(rows.filter(r => r.series === name), {x: "date", y: "value", stroke: seriesColors[i], strokeWidth: 4.5}))
  ]
});

d3.select(chart).append("text")
  .attr("transform", "translate(88,664) rotate(-90)")
  .attr("text-anchor", "middle")
  .attr("fill", "#ffffff")
  .style("font-size", "48px")
  .style("font-family", "DejaVu Sans, Verdana, sans-serif")
  .text(yTitle);

document.getElementById("chart").appendChild(chart);

const legend = d3.select("#legend");
seriesNames.forEach((name, i) => {
  const it = legend.append("div").attr("class", "item");
  it.append("div").attr("class", "sw").style("background", seriesColors[i]);
  it.append("span").text(name);
});
</script>
</body>
</html>
